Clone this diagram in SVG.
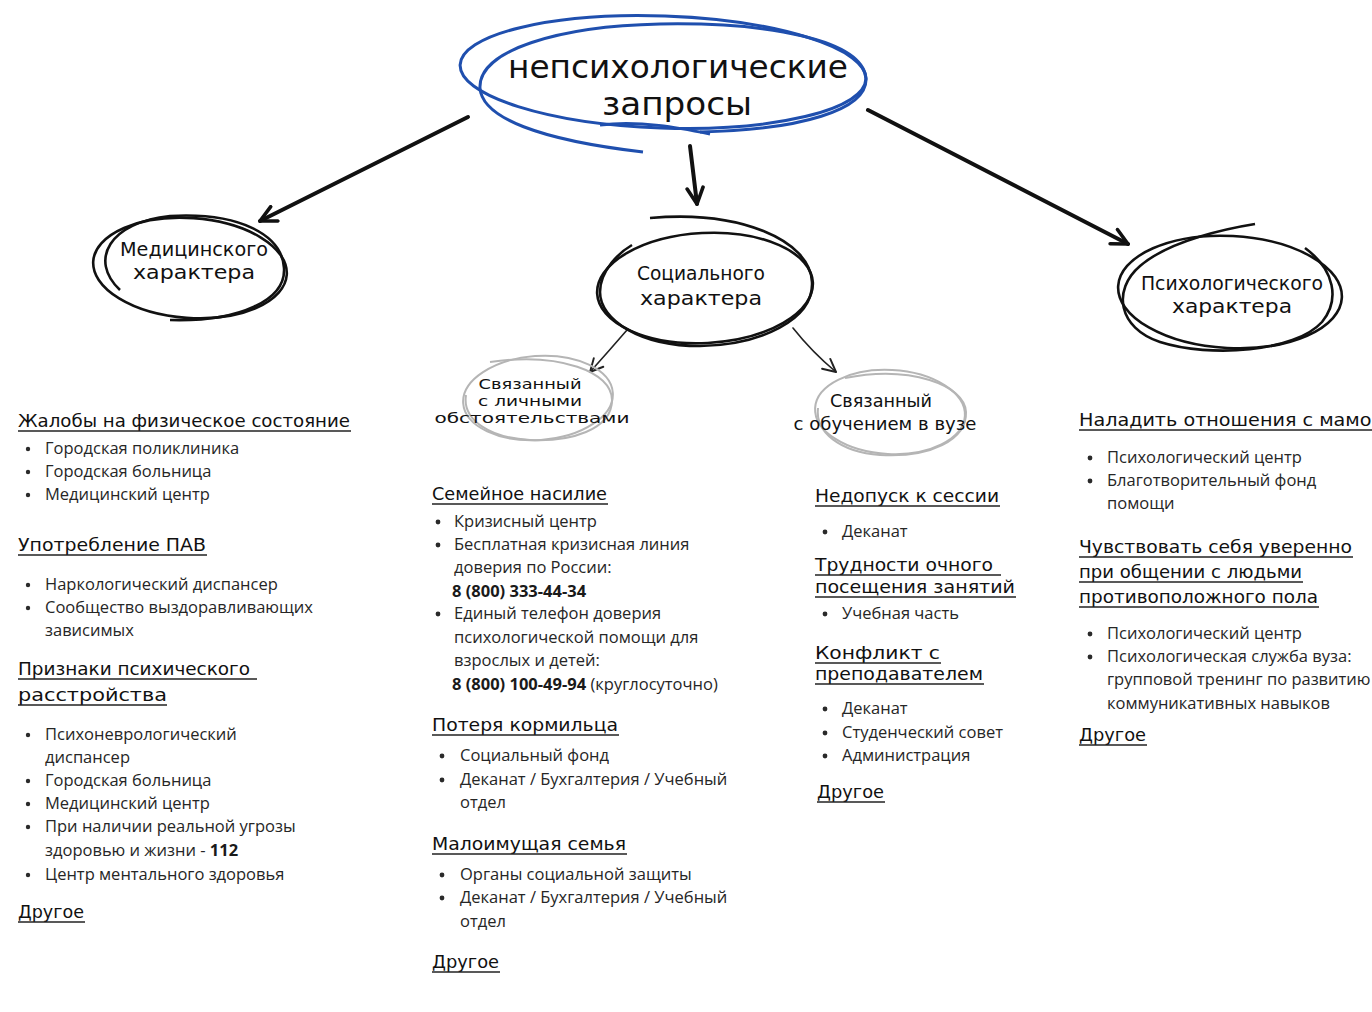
<svg xmlns="http://www.w3.org/2000/svg" width="1372" height="1012" viewBox="0 0 1372 1012">
<style>
.hd{font-family:"DejaVu Sans",sans-serif;font-size:18px;fill:#111;}
.nd{font-family:"DejaVu Sans",sans-serif;font-size:20px;fill:#111;}
.tt{font-family:"DejaVu Sans",sans-serif;font-size:32px;fill:#111;}
.sb{font-family:"DejaVu Sans",sans-serif;font-size:14.5px;fill:#111;}
.tx{font-family:"Open Sans","Noto Sans",sans-serif;font-size:16.5px;fill:#262626;}
.b{font-weight:bold;fill:#1a1a1a;}
.ul{stroke:#222;stroke-width:1.3;fill:none;}
.loop{fill:none;stroke:#111;stroke-width:2.6;}
.gloop{fill:none;stroke:#b5b5b5;stroke-width:2;}
.bloop{fill:none;stroke:#1f4fae;stroke-width:3;}
.arr{stroke:#111;stroke-width:4;fill:none;stroke-linecap:round;}
.sarr{stroke:#222;stroke-width:1.6;fill:none;stroke-linecap:round;}
.dot{fill:#2a2a2a;}
</style>
<defs>
<marker id="ah" viewBox="0 0 10 10" refX="9" refY="5" markerWidth="5" markerHeight="5" orient="auto" markerUnits="strokeWidth">
<path d="M1,1 L9,5 L1,9" fill="none" stroke="#111" stroke-width="1.8" stroke-linecap="round" stroke-linejoin="round"/>
</marker>
<marker id="sah" viewBox="0 0 10 10" refX="9" refY="5" markerWidth="10" markerHeight="10" orient="auto" markerUnits="strokeWidth">
<path d="M1,1 L9,5 L1,9" fill="none" stroke="#222" stroke-width="1.2" stroke-linecap="round" stroke-linejoin="round"/>
</marker>
</defs>
<rect width="1372" height="1012" fill="#fff"/>

<g id="connectors">
<path class="arr" d="M468,117 L260,221" marker-end="url(#ah)"/>
<path class="arr" d="M690,146 L697,204" marker-end="url(#ah)"/>
<path class="arr" d="M868,110 L1128,244" marker-end="url(#ah)"/>
<path class="sarr" d="M627,330 Q608,352 590,372" marker-end="url(#sah)"/>
<path class="sarr" d="M793,328 Q812,352 836,372" marker-end="url(#sah)"/>
</g>

<g id="root">
<ellipse class="bloop" cx="663" cy="72" rx="203" ry="56" transform="rotate(2 663 72)"/>
<path class="bloop" d="M700,132 C800,130 868,110 866,78 C862,40 770,22 660,24 C560,26 478,50 480,88 C482,118 540,140 643,152"/>
<path class="bloop" d="M600,125 C640,120 680,128 710,134"/>
<text class="tt" x="678" y="78" text-anchor="middle" textLength="340" lengthAdjust="spacingAndGlyphs">непсихологические</text>
<text class="tt" x="677" y="115" text-anchor="middle" textLength="150" lengthAdjust="spacingAndGlyphs">запросы</text>
</g>

<g id="med">
<ellipse class="loop" cx="190" cy="268" rx="97" ry="50" transform="rotate(4 190 268)"/>
<path class="loop" d="M120,290 C88,260 110,222 170,216 C240,212 282,235 284,268 C286,300 240,322 170,320"/>
<text class="nd" x="194" y="256" text-anchor="middle" textLength="148" lengthAdjust="spacingAndGlyphs">Медицинского</text>
<text class="nd" x="194" y="279" text-anchor="middle" textLength="122" lengthAdjust="spacingAndGlyphs">характера</text>
</g>

<g id="soc">
<ellipse class="loop" cx="705" cy="288" rx="108" ry="55" transform="rotate(-3 705 288)"/>
<path class="loop" d="M650,218 C740,210 810,240 812,282 C814,320 760,345 700,346 C640,346 600,320 600,292 C600,270 620,252 632,245"/>
<text class="nd" x="701" y="280" text-anchor="middle" textLength="128" lengthAdjust="spacingAndGlyphs">Социального</text>
<text class="nd" x="701" y="305" text-anchor="middle" textLength="122" lengthAdjust="spacingAndGlyphs">характера</text>
</g>

<g id="psy">
<ellipse class="loop" cx="1230" cy="292" rx="112" ry="56" transform="rotate(3 1230 292)"/>
<path class="loop" d="M1305,248 C1335,270 1340,300 1322,322 C1295,352 1210,358 1160,342 C1118,328 1112,290 1140,266 C1170,240 1230,228 1255,224"/>
<text class="nd" x="1232" y="290" text-anchor="middle" textLength="182" lengthAdjust="spacingAndGlyphs">Психологического</text>
<text class="nd" x="1232" y="313" text-anchor="middle" textLength="120" lengthAdjust="spacingAndGlyphs">характера</text>
</g>

<g id="personal">
<ellipse class="gloop" cx="538" cy="398" rx="75" ry="42" transform="rotate(-4 538 398)"/>
<path class="gloop" d="M490,362 C560,352 612,372 612,400 C612,430 570,442 530,440 C490,438 462,420 466,395"/>
<text class="sb" x="530" y="389" text-anchor="middle" textLength="103" lengthAdjust="spacingAndGlyphs">Связанный</text>
<text class="sb" x="530" y="406" text-anchor="middle" textLength="104" lengthAdjust="spacingAndGlyphs">с личными</text>
<text class="sb" x="532" y="423" text-anchor="middle" textLength="195" lengthAdjust="spacingAndGlyphs">обстоятельствами</text>
</g>

<g id="study">
<ellipse class="gloop" cx="890" cy="412" rx="75" ry="42" transform="rotate(3 890 412)"/>
<path class="gloop" d="M845,378 C910,365 965,385 966,412 C967,440 930,458 880,455 C840,452 815,432 818,408"/>
<text class="sb" x="881" y="407" text-anchor="middle" textLength="102" lengthAdjust="spacingAndGlyphs" style="font-size:17px">Связанный</text>
<text class="sb" x="885" y="430" text-anchor="middle" textLength="183" lengthAdjust="spacingAndGlyphs" style="font-size:17px">с обучением в вузе</text>
</g>

<g id="col-med">
<text class="hd" x="18" y="427" textLength="332" lengthAdjust="spacingAndGlyphs">Жалобы на физическое состояние</text>
<line class="ul" x1="18" y1="431" x2="351" y2="431"/>
<circle class="dot" cx="28" cy="449" r="2.2"/><text class="tx" x="45" y="454">Городская поликлиника</text>
<circle class="dot" cx="28" cy="472" r="2.2"/><text class="tx" x="45" y="477">Городская больница</text>
<circle class="dot" cx="28" cy="495" r="2.2"/><text class="tx" x="45" y="500">Медицинский центр</text>

<text class="hd" x="18" y="551" textLength="188" lengthAdjust="spacingAndGlyphs">Употребление ПАВ</text>
<line class="ul" x1="18" y1="555" x2="207" y2="555"/>
<circle class="dot" cx="28" cy="585" r="2.2"/><text class="tx" x="45" y="590">Наркологический диспансер</text>
<circle class="dot" cx="28" cy="608" r="2.2"/><text class="tx" x="45" y="613">Сообщество выздоравливающих</text>
<text class="tx" x="45" y="636">зависимых</text>

<text class="hd" x="18" y="675" textLength="232" lengthAdjust="spacingAndGlyphs">Признаки психического</text>
<line class="ul" x1="18" y1="679" x2="257" y2="679"/>
<text class="hd" x="18" y="701" textLength="149" lengthAdjust="spacingAndGlyphs">расстройства</text>
<line class="ul" x1="18" y1="705" x2="167" y2="705"/>
<circle class="dot" cx="28" cy="735" r="2.2"/><text class="tx" x="45" y="740">Психоневрологический</text>
<text class="tx" x="45" y="763">диспансер</text>
<circle class="dot" cx="28" cy="781" r="2.2"/><text class="tx" x="45" y="786">Городская больница</text>
<circle class="dot" cx="28" cy="804" r="2.2"/><text class="tx" x="45" y="809">Медицинский центр</text>
<circle class="dot" cx="28" cy="827" r="2.2"/><text class="tx" x="45" y="832">При наличии реальной угрозы</text>
<text class="tx" x="45" y="856">здоровью и жизни - <tspan class="b">112</tspan></text>
<circle class="dot" cx="28" cy="875" r="2.2"/><text class="tx" x="45" y="880">Центр ментального здоровья</text>

<text class="hd" x="18" y="918" textLength="66" lengthAdjust="spacingAndGlyphs">Другое</text>
<line class="ul" x1="18" y1="922" x2="85" y2="922"/>
</g>

<g id="col-personal">
<text class="hd" x="432" y="500" textLength="175" lengthAdjust="spacingAndGlyphs">Семейное насилие</text>
<line class="ul" x1="432" y1="504" x2="608" y2="504"/>
<circle class="dot" cx="438" cy="522" r="2.4"/><text class="tx" x="454" y="527">Кризисный центр</text>
<circle class="dot" cx="438" cy="545" r="2.4"/><text class="tx" x="454" y="550">Бесплатная кризисная линия</text>
<text class="tx" x="454" y="573">доверия по России:</text>
<text class="tx b" x="452" y="597">8 (800) 333-44-34</text>
<circle class="dot" cx="438" cy="614" r="2.4"/><text class="tx" x="454" y="619">Единый телефон доверия</text>
<text class="tx" x="454" y="643">психологической помощи для</text>
<text class="tx" x="454" y="666">взрослых и детей:</text>
<text class="tx" x="452" y="690"><tspan class="b">8 (800) 100-49-94</tspan> (круглосуточно)</text>

<text class="hd" x="432" y="731" textLength="186" lengthAdjust="spacingAndGlyphs">Потеря кормильца</text>
<line class="ul" x1="432" y1="735" x2="619" y2="735"/>
<circle class="dot" cx="442" cy="756" r="2.4"/><text class="tx" x="460" y="761">Социальный фонд</text>
<circle class="dot" cx="442" cy="780" r="2.4"/><text class="tx" x="460" y="785">Деканат / Бухгалтерия / Учебный</text>
<text class="tx" x="460" y="808">отдел</text>

<text class="hd" x="432" y="850" textLength="194" lengthAdjust="spacingAndGlyphs">Малоимущая семья</text>
<line class="ul" x1="432" y1="854" x2="627" y2="854"/>
<circle class="dot" cx="442" cy="875" r="2.4"/><text class="tx" x="460" y="880">Органы социальной защиты</text>
<circle class="dot" cx="442" cy="898" r="2.4"/><text class="tx" x="460" y="903">Деканат / Бухгалтерия / Учебный</text>
<text class="tx" x="460" y="927">отдел</text>

<text class="hd" x="432" y="968" textLength="67" lengthAdjust="spacingAndGlyphs">Другое</text>
<line class="ul" x1="432" y1="972" x2="500" y2="972"/>
</g>

<g id="col-study">
<text class="hd" x="815" y="502" textLength="184" lengthAdjust="spacingAndGlyphs">Недопуск к сессии</text>
<line class="ul" x1="815" y1="506" x2="1000" y2="506"/>
<circle class="dot" cx="825" cy="532" r="2.4"/><text class="tx" x="842" y="537">Деканат</text>

<text class="hd" x="815" y="571" textLength="178" lengthAdjust="spacingAndGlyphs">Трудности очного</text>
<line class="ul" x1="815" y1="575" x2="1001" y2="575"/>
<text class="hd" x="815" y="593" textLength="200" lengthAdjust="spacingAndGlyphs">посещения занятий</text>
<line class="ul" x1="815" y1="597" x2="1016" y2="597"/>
<circle class="dot" cx="825" cy="614" r="2.4"/><text class="tx" x="842" y="619">Учебная часть</text>

<text class="hd" x="815" y="659" textLength="125" lengthAdjust="spacingAndGlyphs">Конфликт с</text>
<line class="ul" x1="815" y1="663" x2="941" y2="663"/>
<text class="hd" x="815" y="680" textLength="168" lengthAdjust="spacingAndGlyphs">преподавателем</text>
<line class="ul" x1="815" y1="684" x2="984" y2="684"/>
<circle class="dot" cx="825" cy="709" r="2.4"/><text class="tx" x="842" y="714">Деканат</text>
<circle class="dot" cx="825" cy="733" r="2.4"/><text class="tx" x="842" y="738">Студенческий совет</text>
<circle class="dot" cx="825" cy="756" r="2.4"/><text class="tx" x="842" y="761">Администрация</text>

<text class="hd" x="817" y="798" textLength="67" lengthAdjust="spacingAndGlyphs">Другое</text>
<line class="ul" x1="817" y1="802" x2="885" y2="802"/>
</g>

<g id="col-psy">
<text class="hd" x="1079" y="426" textLength="305" lengthAdjust="spacingAndGlyphs">Наладить отношения с мамой</text>
<line class="ul" x1="1079" y1="430" x2="1372" y2="430"/>
<circle class="dot" cx="1090" cy="458" r="2.4"/><text class="tx" x="1107" y="463">Психологический центр</text>
<circle class="dot" cx="1090" cy="481" r="2.4"/><text class="tx" x="1107" y="486">Благотворительный фонд</text>
<text class="tx" x="1107" y="509">помощи</text>

<text class="hd" x="1079" y="553" textLength="273" lengthAdjust="spacingAndGlyphs">Чувствовать себя уверенно</text>
<line class="ul" x1="1079" y1="557" x2="1353" y2="557"/>
<text class="hd" x="1079" y="578" textLength="223" lengthAdjust="spacingAndGlyphs">при общении с людьми</text>
<line class="ul" x1="1079" y1="582" x2="1303" y2="582"/>
<text class="hd" x="1079" y="603" textLength="239" lengthAdjust="spacingAndGlyphs">противоположного пола</text>
<line class="ul" x1="1079" y1="607" x2="1319" y2="607"/>
<circle class="dot" cx="1090" cy="634" r="2.4"/><text class="tx" x="1107" y="639">Психологический центр</text>
<circle class="dot" cx="1090" cy="657" r="2.4"/><text class="tx" x="1107" y="662">Психологическая служба вуза:</text>
<text class="tx" x="1107" y="685">групповой тренинг по развитию</text>
<text class="tx" x="1107" y="709">коммуникативных навыков</text>

<text class="hd" x="1079" y="741" textLength="67" lengthAdjust="spacingAndGlyphs">Другое</text>
<line class="ul" x1="1079" y1="745" x2="1147" y2="745"/>
</g>
</svg>
